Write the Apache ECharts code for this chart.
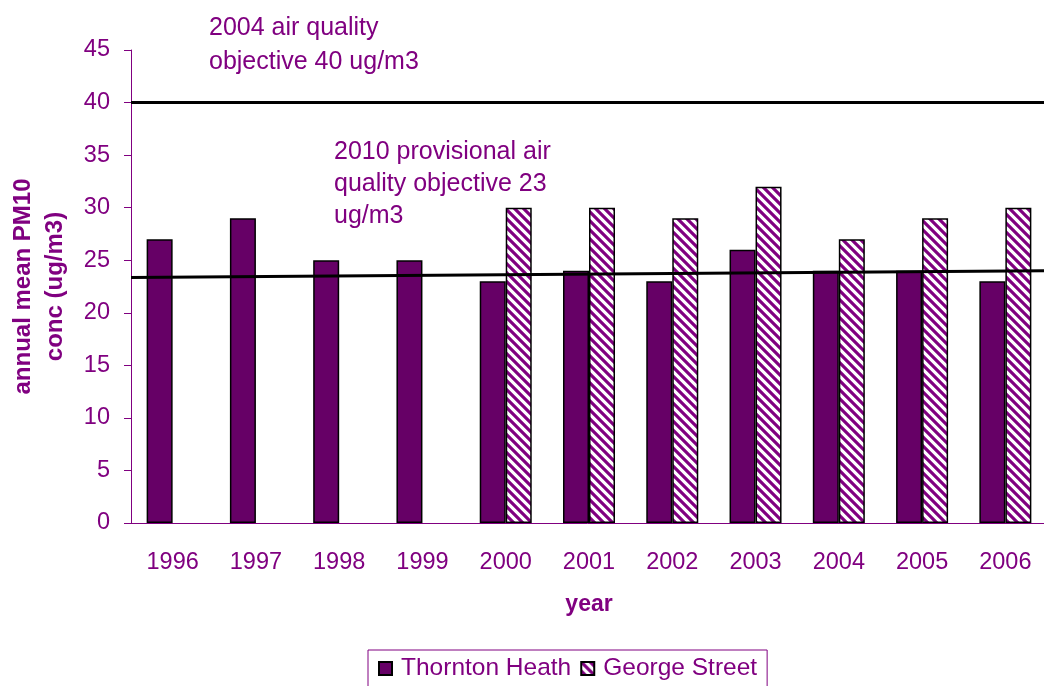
<!DOCTYPE html>
<html>
<head>
<meta charset="utf-8">
<script src="https://cdn.jsdelivr.net/npm/echarts@6/dist/echarts.min.js"></script>
<style>
  html, body { margin: 0; padding: 0; background: #fff; }
  #chart { width: 1044px; height: 686px; }
</style>
</head>
<body>
<div id="chart"></div>
<script>
// data
var years = ['1996', '1997', '1998', '1999', '2000', '2001', '2002', '2003', '2004', '2005', '2006'];
var thorntonHeath = [27, 29, 25, 25, 23, 24, 23, 26, 24, 24, 23];
var georgeStreet = [null, null, null, null, 30, 30, 29, 32, 27, 29, 30];
var objective2004 = [40, 40];      // flat line across the plot
var objective2010 = [23.35, 24.0]; // the sloping line, start / end
var yTicks = { min: 0, max: 45, interval: 5 };

var purple = '#800080';
var darkPurple = '#660066';
var font = 'Liberation Sans, Arial, sans-serif';

// hatch fill for George Street (stripes going down to the right)
function makeHatch() {
  var s = 9;
  var c = document.createElement('canvas');
  c.width = s; c.height = s;
  var ctx = c.getContext('2d');
  ctx.fillStyle = '#fff';
  ctx.fillRect(0, 0, s, s);
  ctx.strokeStyle = purple;
  ctx.lineWidth = 3.2;
  ctx.beginPath();
  ctx.moveTo(-2, -2); ctx.lineTo(s + 2, s + 2);
  ctx.moveTo(-2, s - 2); ctx.lineTo(2, s + 2);
  ctx.moveTo(s - 2, -2); ctx.lineTo(s + 2, 2);
  ctx.stroke();
  return c;
}

var chart = echarts.init(document.getElementById('chart'));

var option = {
  animation: false,
  textStyle: { fontFamily: font },
  // plot shifted 3px right, the y axis pulled back onto x=128
  grid: { left: 131, top: 50, right: -3, bottom: 163, containLabel: false, outerBoundsMode: 'none' },
  legend: {
    data: ['Thornton Heath', 'George Street'],
    left: 368,
    top: 650,
    padding: [6, 10, 12, 10],
    borderColor: purple,
    borderWidth: 1,
    itemWidth: 13,
    itemHeight: 13,
    itemGap: 9,
    icon: 'rect',
    textStyle: { color: purple, fontSize: 24.5, fontFamily: font, padding: [0, 0, 0, 4] }
  },
  xAxis: [
    {
      type: 'category',
      data: years,
      name: 'year',
      nameLocation: 'middle',
      nameGap: 70,
      nameTextStyle: { color: purple, fontSize: 23, fontWeight: 'bold', fontFamily: font },
      axisLine: { lineStyle: { color: purple, width: 1 } },
      axisTick: { length: 6, lineStyle: { color: purple } },
      axisLabel: { color: purple, fontSize: 23.5, margin: 28, fontFamily: font },
      splitLine: { show: false }
    },
    {
      type: 'value',
      min: 0,
      max: 1,
      show: false
    }
  ],
  yAxis: {
    type: 'value',
    offset: 3,
    min: yTicks.min,
    max: yTicks.max,
    interval: yTicks.interval,
    name: 'annual mean PM10\nconc (ug/m3)',
    nameLocation: 'middle',
    nameGap: 57,
    nameTextStyle: { color: purple, fontSize: 24, fontWeight: 'bold', lineHeight: 32, fontFamily: font },
    axisLine: { show: true, lineStyle: { color: purple, width: 1 } },
    axisTick: { show: true, length: 7, lineStyle: { color: purple } },
    axisLabel: { color: purple, fontSize: 23.5, margin: 18, fontFamily: font },
    splitLine: { show: false }
  },
  series: [
    {
      name: 'Thornton Heath',
      type: 'bar',
      data: thorntonHeath,
      barWidth: 26,
      barGap: '0%',
      itemStyle: { color: darkPurple, borderColor: '#000', borderWidth: 1.5 }
    },
    {
      name: 'George Street',
      type: 'bar',
      data: georgeStreet,
      barWidth: 26,
      barGap: '0%',
      itemStyle: {
        color: { image: makeHatch(), repeat: 'repeat' },
        borderColor: '#000',
        borderWidth: 1.5
      }
    },
    {
      name: 'objective 2004',
      type: 'line',
      xAxisIndex: 1,
      data: [[0, objective2004[0]], [1, objective2004[1]]],
      symbol: 'none',
      lineStyle: { color: '#000', width: 3 },
      z: 5
    },
    {
      name: 'objective 2010',
      type: 'line',
      xAxisIndex: 1,
      data: [[0, objective2010[0]], [1, objective2010[1]]],
      symbol: 'none',
      lineStyle: { color: '#000', width: 3 },
      z: 5
    }
  ],
  graphic: [
    {
      type: 'text',
      left: 209,
      top: 11,
      style: {
        text: '2004 air quality\nobjective 40 ug/m3',
        fill: purple,
        font: '25px ' + font,
        lineHeight: 34
      }
    },
    {
      type: 'text',
      left: 334,
      top: 136,
      style: {
        text: '2010 provisional air\nquality objective 23\nug/m3',
        fill: purple,
        font: '25px ' + font,
        lineHeight: 32
      }
    }
  ]
};

chart.setOption(option);
</script>
</body>
</html>
